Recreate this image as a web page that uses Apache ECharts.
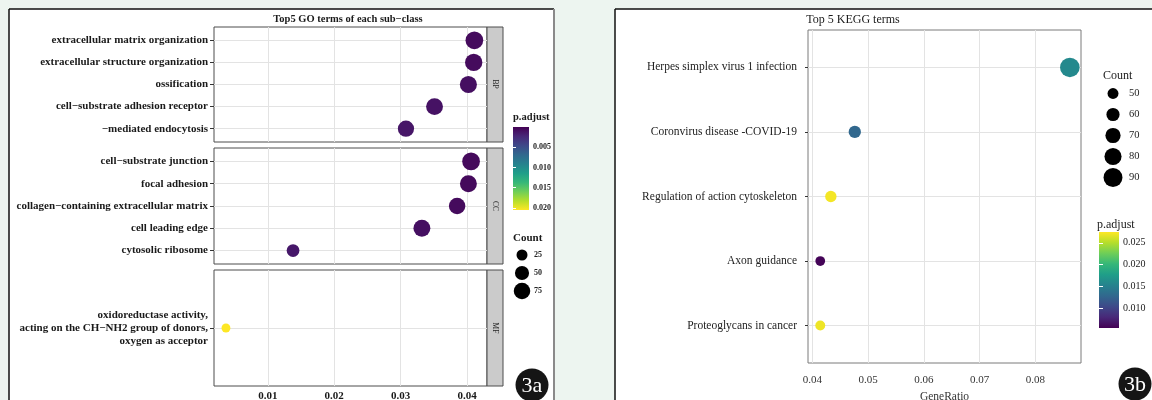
<!DOCTYPE html>
<html>
<head>
<meta charset="utf-8" />
<script src="https://cdn.jsdelivr.net/npm/echarts@6.0.0/dist/echarts.min.js"></script>
<style>
  body { margin: 0; background: #edf5f0; }
  #main { width: 1152px; height: 400px; }
</style>
</head>
<body>
<div id="main"></div>
<script>
// ---- GO (3a) ----
var goBP = ['extracellular matrix organization', 'extracellular structure organization', 'ossification', 'cell−substrate adhesion receptor', '−mediated endocytosis'];
var goBPRatio = [0.0411, 0.0410, 0.0402, 0.0351, 0.0308];
var goBPCount = [90, 85, 82, 80, 72];
var goBPPadj = [0.0006, 0.0006, 0.0008, 0.0010, 0.0012];

var goCC = ['cell−substrate junction', 'focal adhesion', 'collagen−containing extracellular matrix', 'cell leading edge', 'cytosolic ribosome'];
var goCCRatio = [0.0406, 0.0402, 0.0385, 0.0332, 0.0138];
var goCCCount = [90, 80, 75, 80, 38];
var goCCPadj = [0.0005, 0.0005, 0.0006, 0.0008, 0.0013];

var goMF = ['oxidoreductase activity,\nacting on the CH−NH2 group of donors,\noxygen as acceptor'];
var goMFRatio = [0.0037];
var goMFCount = [13];
var goMFPadj = [0.0205];

var goTicks = [0.01, 0.02, 0.03, 0.04];
var goMinor = [0.005, 0.015, 0.025, 0.035];
var goPadjTicks = [0.005, 0.010, 0.015, 0.020];
var goCountLegend = [25, 50, 75];

// ---- KEGG (3b) ----
var keggTerms = ['Herpes simplex virus 1 infection', 'Coronvirus disease -COVID-19', 'Regulation of action cytoskeleton', 'Axon guidance', 'Proteoglycans in cancer'];
var keggRatio = [0.0862, 0.0476, 0.0433, 0.0414, 0.0414];
var keggCount = [94, 56, 52, 45, 46];
var keggPadj = [0.0158, 0.0128, 0.0272, 0.0056, 0.0270];

var keggTicks = [0.04, 0.05, 0.06, 0.07, 0.08];
var keggMinor = [0.045, 0.055, 0.065, 0.075, 0.085];
var keggPadjTicks = [0.010, 0.015, 0.020, 0.025];
var keggCountLegend = [50, 60, 70, 80, 90];

var viridis = ['#440154', '#482878', '#3e4989', '#31688e', '#26828e', '#1f9e89', '#35b779', '#6ece58', '#b5de2b', '#fde725'];
var serif = '"Liberation Serif", "DejaVu Serif", serif';

function goSize(c) { return 3.5 + 1.5 * Math.sqrt(c); }
function keggSize(c) { return -12.4 + 3.3 * Math.sqrt(c); }

function points(ratio, padj, count) {
  return ratio.map(function (r, i) { return [r, i, padj[i], count[i]]; });
}
function indexes(cats) {
  return cats.map(function (c, i) { return i; });
}

function gridLines(major, minor, ncat) {
  var d = [];
  minor.forEach(function (v) { d.push({ xAxis: v, lineStyle: { color: '#eeeeee', width: 1 } }); });
  major.forEach(function (v) { d.push({ xAxis: v }); });
  for (var i = 0; i < ncat; i++) d.push({ yAxis: i });
  return {
    silent: true, symbol: 'none', z: 1, animation: false,
    label: { show: false },
    lineStyle: { color: '#e3e3e3', width: 1, type: 'solid' },
    data: d
  };
}

var stops = viridis.map(function (c, i) { return { offset: i / (viridis.length - 1), color: c }; });

// colour bar drawn from pMin to pMax through the y scale
function colorbarItem(params, api) {
  var a = api.coord([0, api.value(1)]);
  var b = api.coord([1, api.value(2)]);
  return {
    type: 'rect',
    shape: { x: Math.min(a[0], b[0]), y: Math.min(a[1], b[1]), width: Math.abs(b[0] - a[0]), height: Math.abs(b[1] - a[1]) },
    style: { fill: new echarts.graphic.LinearGradient(a[0], a[1], a[0], b[1], stops, true) }
  };
}

var goX = { min: 0.0019, max: 0.043 };
var keggX = { min: 0.0392, max: 0.0882 };

function facetX(idx, showLabels) {
  return {
    type: 'value', gridIndex: idx, min: goX.min, max: goX.max,
    axisLine: { show: false }, splitLine: { show: false },
    axisTick: { show: showLabels, customValues: goTicks, length: 3, lineStyle: { color: '#333' } },
    axisLabel: { show: showLabels, customValues: goTicks, margin: 5, fontFamily: serif, fontWeight: 'bold', fontSize: 11, color: '#1a1a1a',
      formatter: function (v) { return v.toFixed(2); } }
  };
}
// discrete axis laid out like ggplot (0.6 padding), terms at 0..n-1
function termY(idx, cats, style) {
  return {
    type: 'value', gridIndex: idx, inverse: true, min: -style.pad, max: cats.length - 1 + style.pad,
    axisLine: { show: false }, splitLine: { show: false },
    axisTick: { customValues: indexes(cats), length: style.tick, lineStyle: { color: '#333' } },
    axisLabel: { customValues: indexes(cats), margin: style.margin, fontFamily: serif, fontWeight: style.weight,
      fontSize: style.size, color: style.color, lineHeight: 13,
      formatter: function (v) { return cats[Math.round(v)]; } }
  };
}
var goStyle = { pad: 0.6, tick: 4, margin: 6, weight: 'bold', size: 11, color: '#1a1a1a' };
var keggStyle = { pad: 0.58, tick: 3, margin: 11, weight: 'normal', size: 11.5, color: '#222' };

var dom = document.getElementById('main');
var myChart = echarts.init(dom, null, { renderer: 'canvas' });

function box(left, top, width, height, border) {
  var g = { left: left, top: top, width: width, height: height, outerBoundsMode: 'none', containLabel: false };
  if (border) {
    g.show = true; g.backgroundColor = '#fff'; g.borderColor = border; g.borderWidth = 1;
  }
  return g;
}

var option = {
  backgroundColor: '#edf5f0',
  animation: false,
  grid: [
    box(214, 27, 273, 115, '#4d4d4d'),
    box(214, 148, 273, 116, '#4d4d4d'),
    box(214, 270, 273, 116, '#4d4d4d'),
    box(808, 30, 273, 333, '#7a7a7a'),
    box(513, 127, 16, 83),
    box(513, 246, 18, 54),
    box(1099, 232, 20, 96),
    box(1103, 83, 20, 105)
  ],
  xAxis: [
    facetX(0, false), facetX(1, false), facetX(2, true),
    {
      type: 'value', gridIndex: 3, min: keggX.min, max: keggX.max,
      axisLine: { show: false }, splitLine: { show: false },
      axisTick: { customValues: keggTicks, length: 3, lineStyle: { color: '#444' } },
      axisLabel: { customValues: keggTicks, margin: 12, fontFamily: serif, fontSize: 11, color: '#333',
        formatter: function (v) { return v.toFixed(2); } },
      name: 'GeneRatio', nameLocation: 'middle', nameGap: 25,
      nameTextStyle: { fontFamily: serif, fontSize: 11.5, color: '#333' }
    },
    { type: 'value', gridIndex: 4, min: 0, max: 1, show: false },
    { type: 'value', gridIndex: 5, min: 0, max: 1, show: false },
    { type: 'value', gridIndex: 6, min: 0, max: 1, show: false },
    { type: 'value', gridIndex: 7, min: 0, max: 1, show: false }
  ],
  yAxis: [
    termY(0, goBP, goStyle), termY(1, goCC, goStyle), termY(2, goMF, goStyle),
    termY(3, keggTerms, keggStyle),
    {
      type: 'value', gridIndex: 4, min: 0, max: 0.0205, inverse: true, position: 'right', z: 10,
      axisLine: { show: false }, splitLine: { show: false },
      axisTick: { customValues: goPadjTicks, inside: true, length: 3, lineStyle: { color: '#fff' } },
      axisLabel: { customValues: goPadjTicks, margin: 4, fontFamily: serif, fontWeight: 'bold', fontSize: 8, color: '#222',
        formatter: function (v) { return v.toFixed(3); } }
    },
    {
      type: 'category', gridIndex: 5, data: goCountLegend.map(String), inverse: true, position: 'right',
      axisLine: { show: false }, axisTick: { show: false }, splitLine: { show: false },
      axisLabel: { margin: 3, fontFamily: serif, fontWeight: 'bold', fontSize: 8, color: '#222' }
    },
    {
      type: 'value', gridIndex: 6, min: 0.0054, max: 0.0275, position: 'right', z: 10,
      axisLine: { show: false }, splitLine: { show: false },
      axisTick: { customValues: keggPadjTicks, inside: true, length: 4, lineStyle: { color: '#fff' } },
      axisLabel: { customValues: keggPadjTicks, margin: 4, fontFamily: serif, fontSize: 10, color: '#222',
        formatter: function (v) { return v.toFixed(3); } }
    },
    {
      type: 'category', gridIndex: 7, data: keggCountLegend.map(String), inverse: true, position: 'right',
      axisLine: { show: false }, axisTick: { show: false }, splitLine: { show: false },
      axisLabel: { margin: 6, fontFamily: serif, fontSize: 10.5, color: '#222' }
    },
    {
      type: 'value', gridIndex: 4, min: 0, max: 0.0205, inverse: true, position: 'left', z: 10,
      axisLine: { show: false }, splitLine: { show: false }, axisLabel: { show: false },
      axisTick: { customValues: goPadjTicks, inside: true, length: 3, lineStyle: { color: '#fff' } }
    },
    {
      type: 'value', gridIndex: 6, min: 0.0054, max: 0.0275, position: 'left', z: 10,
      axisLine: { show: false }, splitLine: { show: false }, axisLabel: { show: false },
      axisTick: { customValues: keggPadjTicks, inside: true, length: 4, lineStyle: { color: '#fff' } }
    }
  ],
  visualMap: [
    { show: false, type: 'continuous', seriesIndex: [0, 1, 2], dimension: 2, min: 0, max: 0.0205, inRange: { color: viridis } },
    { show: false, type: 'continuous', seriesIndex: [3], dimension: 2, min: 0.0054, max: 0.0275, inRange: { color: viridis } }
  ],
  series: [
    { type: 'scatter', xAxisIndex: 0, yAxisIndex: 0, z: 3, itemStyle: { opacity: 1 }, data: points(goBPRatio, goBPPadj, goBPCount),
      symbolSize: function (v) { return goSize(v[3]); }, markLine: gridLines(goTicks, goMinor, goBP.length) },
    { type: 'scatter', xAxisIndex: 1, yAxisIndex: 1, z: 3, itemStyle: { opacity: 1 }, data: points(goCCRatio, goCCPadj, goCCCount),
      symbolSize: function (v) { return goSize(v[3]); }, markLine: gridLines(goTicks, goMinor, goCC.length) },
    { type: 'scatter', xAxisIndex: 2, yAxisIndex: 2, z: 3, itemStyle: { opacity: 1 }, data: points(goMFRatio, goMFPadj, goMFCount),
      symbolSize: function (v) { return goSize(v[3]); }, markLine: gridLines(goTicks, goMinor, goMF.length) },
    { type: 'scatter', xAxisIndex: 3, yAxisIndex: 3, z: 3, itemStyle: { opacity: 1 }, data: points(keggRatio, keggPadj, keggCount),
      symbolSize: function (v) { return keggSize(v[3]); }, markLine: gridLines(keggTicks, keggMinor, keggTerms.length) },
    { type: 'custom', xAxisIndex: 4, yAxisIndex: 4, z: 1, data: [[0, 0, 0.0205]], renderItem: colorbarItem },
    { type: 'scatter', xAxisIndex: 5, yAxisIndex: 5, itemStyle: { color: '#000', opacity: 1 },
      data: goCountLegend.map(function (c, i) { return [0.5, i, c]; }),
      symbolSize: function (v) { return goSize(v[2]); } },
    { type: 'custom', xAxisIndex: 6, yAxisIndex: 6, z: 1, data: [[0, 0.0054, 0.0275]], renderItem: colorbarItem },
    { type: 'scatter', xAxisIndex: 7, yAxisIndex: 7, itemStyle: { color: '#000', opacity: 1 },
      data: keggCountLegend.map(function (c, i) { return [0.5, i, c]; }),
      symbolSize: function (v) { return keggSize(v[2]); } }
  ],
  graphic: [
    // white panels
    { type: 'rect', z: -10, shape: { x: 9, y: 9, width: 545, height: 400 }, style: { fill: '#fff' } },
    { type: 'rect', z: -10, shape: { x: 615, y: 9, width: 540, height: 400 }, style: { fill: '#fff' } },
    { type: 'line', z: -5, shape: { x1: 9, y1: 9, x2: 554, y2: 9 }, style: { stroke: '#111', lineWidth: 1.5 } },
    { type: 'line', z: -5, shape: { x1: 9, y1: 9, x2: 9, y2: 400 }, style: { stroke: '#111', lineWidth: 1.5 } },
    { type: 'line', z: -5, shape: { x1: 554, y1: 9, x2: 554, y2: 400 }, style: { stroke: '#8a8a8a', lineWidth: 2 } },
    { type: 'line', z: -5, shape: { x1: 615, y1: 9, x2: 1152, y2: 9 }, style: { stroke: '#111', lineWidth: 1.5 } },
    { type: 'line', z: -5, shape: { x1: 615, y1: 9, x2: 615, y2: 400 }, style: { stroke: '#111', lineWidth: 1.5 } },
    // facet strips
    { type: 'rect', shape: { x: 487, y: 27, width: 16, height: 115 }, style: { fill: '#cbcbcb', stroke: '#4d4d4d', lineWidth: 1 } },
    { type: 'rect', shape: { x: 487, y: 148, width: 16, height: 116 }, style: { fill: '#cbcbcb', stroke: '#4d4d4d', lineWidth: 1 } },
    { type: 'rect', shape: { x: 487, y: 270, width: 16, height: 116 }, style: { fill: '#cbcbcb', stroke: '#4d4d4d', lineWidth: 1 } },
    { type: 'text', x: 495, y: 84, rotation: -Math.PI / 2, style: { text: 'BP', fontFamily: serif, fontSize: 7.5, fill: '#222', align: 'center', verticalAlign: 'middle' } },
    { type: 'text', x: 495, y: 206, rotation: -Math.PI / 2, style: { text: 'CC', fontFamily: serif, fontSize: 7.5, fill: '#222', align: 'center', verticalAlign: 'middle' } },
    { type: 'text', x: 495, y: 328, rotation: -Math.PI / 2, style: { text: 'MF', fontFamily: serif, fontSize: 7.5, fill: '#222', align: 'center', verticalAlign: 'middle' } },
    // titles
    { type: 'text', x: 348, y: 19, style: { text: 'Top5 GO terms of each sub−class', fontFamily: serif, fontWeight: 'bold', fontSize: 10.5, fill: '#1a1a1a', align: 'center', verticalAlign: 'middle' } },
    { type: 'text', x: 853, y: 20, style: { text: 'Top 5 KEGG terms', fontFamily: serif, fontSize: 12, fill: '#1a1a1a', align: 'center', verticalAlign: 'middle' } },
    // legend titles
    { type: 'text', x: 513, y: 117, style: { text: 'p.adjust', fontFamily: serif, fontWeight: 'bold', fontSize: 10.5, fill: '#1a1a1a', verticalAlign: 'middle' } },
    { type: 'text', x: 513, y: 238, style: { text: 'Count', fontFamily: serif, fontWeight: 'bold', fontSize: 11, fill: '#1a1a1a', verticalAlign: 'middle' } },
    { type: 'text', x: 1103, y: 76, style: { text: 'Count', fontFamily: serif, fontSize: 12, fill: '#1a1a1a', verticalAlign: 'middle' } },
    { type: 'text', x: 1097, y: 225, style: { text: 'p.adjust', fontFamily: serif, fontSize: 12, fill: '#1a1a1a', verticalAlign: 'middle' } },
    // panel badges
    { type: 'circle', z: 100, shape: { cx: 532, cy: 385, r: 16.5 }, style: { fill: '#151515' } },
    { type: 'text', z: 101, x: 532, y: 386, style: { text: '3a', fontFamily: serif, fontSize: 22, fill: '#fff', align: 'center', verticalAlign: 'middle' } },
    { type: 'circle', z: 100, shape: { cx: 1135, cy: 384, r: 16.5 }, style: { fill: '#151515' } },
    { type: 'text', z: 101, x: 1135, y: 385, style: { text: '3b', fontFamily: serif, fontSize: 22, fill: '#fff', align: 'center', verticalAlign: 'middle' } }
  ]
};

myChart.setOption(option);
</script>
</body>
</html>
